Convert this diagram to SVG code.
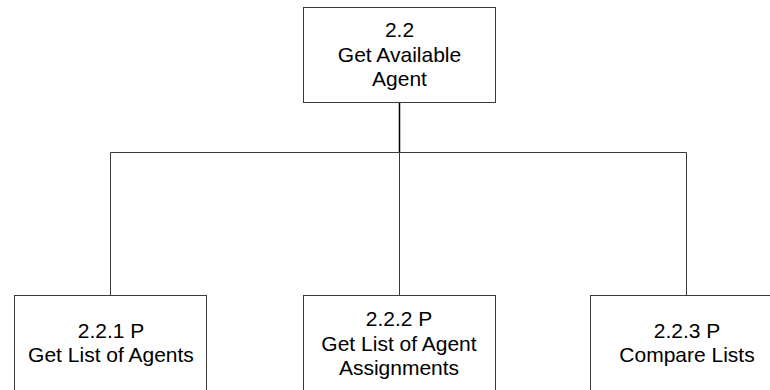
<svg xmlns="http://www.w3.org/2000/svg" width="770" height="390" viewBox="0 0 770 390">
  <style>
    .box { fill: #ffffff; stroke: #3a3a3a; stroke-width: 1; }
    .label { font-family: "Liberation Sans", Arial, sans-serif; font-size: 21px; fill: #000000; text-anchor: middle; }
    .wire { fill: none; stroke: #3a3a3a; stroke-width: 1; }
    .stem { fill: none; stroke: #000000; stroke-width: 1.5; }
  </style>
  <rect x="0" y="0" width="770" height="390" fill="#ffffff"/>

  <!-- connectors -->
  <g id="connectors">
    <path class="stem" d="M399.5 102.5 V152.5"/>
    <path class="wire" d="M110.5 152.5 H686.5"/>
    <path class="wire" d="M110.5 152.5 V295.5"/>
    <path class="wire" d="M399.5 152.5 V295.5"/>
    <path class="wire" d="M686.5 152.5 V295.5"/>
  </g>

  <!-- parent process -->
  <g id="node-2-2">
    <rect class="box" x="303.5" y="7.5" width="192" height="95"/>
    <text class="label" x="399.5" y="37">2.2</text>
    <text class="label" x="399.5" y="61.5">Get Available</text>
    <text class="label" x="399.5" y="86">Agent</text>
  </g>

  <!-- child processes -->
  <g id="node-2-2-1">
    <rect class="box" x="14.5" y="295.5" width="192" height="110"/>
    <text class="label" x="111" y="338">2.2.1 P</text>
    <text class="label" x="111" y="362">Get List of Agents</text>
  </g>

  <g id="node-2-2-2">
    <rect class="box" x="303.5" y="295.5" width="192" height="110"/>
    <text class="label" x="399" y="326">2.2.2 P</text>
    <text class="label" x="399" y="350.5">Get List of Agent</text>
    <text class="label" x="399" y="375">Assignments</text>
  </g>

  <g id="node-2-2-3">
    <rect class="box" x="590.5" y="295.5" width="192" height="110"/>
    <text class="label" x="687" y="338">2.2.3 P</text>
    <text class="label" x="687" y="362">Compare Lists</text>
  </g>
</svg>
